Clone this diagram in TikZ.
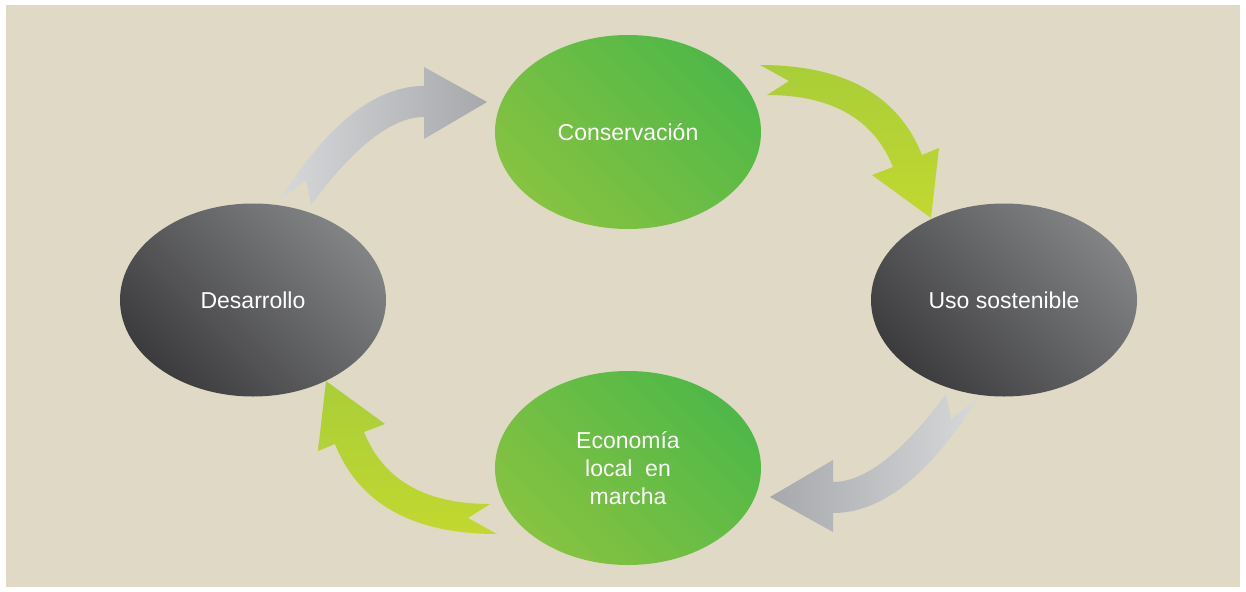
\documentclass[tikz,border=0pt]{standalone}
\usepackage{fontspec}
\setmainfont{Liberation Sans}
\usetikzlibrary{shapes.geometric}
\definecolor{beige}{HTML}{E0D9C5}
\definecolor{greenA}{HTML}{4FB848}
\definecolor{greenB}{HTML}{86C341}
\definecolor{grayA}{HTML}{828385}
\definecolor{grayB}{HTML}{3C3C3E}
\definecolor{arrLight}{HTML}{D7D8DA}
\definecolor{arrDark}{HTML}{A6A8AB}
\definecolor{limeTop}{HTML}{A9CE38}
\definecolor{limeBot}{HTML}{C2D82F}
\tikzset{
  greenell/.style={ellipse, minimum width=266pt, minimum height=194pt, inner sep=0pt,
    shading=axis, top color=greenA, bottom color=greenB, shading angle=-45,
    text=white, font=\fontsize{23}{28}\selectfont, align=center},
  grayell/.style={ellipse, minimum width=266pt, minimum height=193pt, inner sep=0pt,
    shading=axis, top color=grayA, bottom color=grayB, shading angle=-45,
    text=white, font=\fontsize{23}{28}\selectfont, align=center},
  grayarrL/.style={shading=axis, left color=arrLight, right color=arrDark},
  grayarrR/.style={shading=axis, left color=arrDark, right color=arrLight},
  limearr/.style={shading=axis, top color=limeTop, bottom color=limeBot}
}
\begin{document}
\begin{tikzpicture}[x=1pt,y=-1pt]
\useasboundingbox (0,0) rectangle (1246,591);
\fill[white] (0,0) rectangle (1246,591);
\fill[beige] (6,5) rectangle (1240,587);

% arrows
\shade[grayarrL] (280,200) -- (306,180) -- (311,205)
  .. controls (354.3,146.3) and (392,117) .. (424,117) -- (424,139) -- (487,102) -- (424,67) -- (424,86)
  .. controls (375.3,86) and (327.3,124) .. (280,200) -- cycle;
\shade[grayarrR] (977,399) -- (951,419) -- (946,394)
  .. controls (902.7,452.7) and (865,482) .. (833,482) -- (833,460) -- (770,497) -- (833,532) -- (833,513)
  .. controls (881.7,513) and (929.7,475) .. (977,399) -- cycle;
\shade[limearr] (760,65) .. controls (844,65) and (898,95) .. (922,155) -- (939,148) -- (931,218)
  -- (872,175) -- (893,167) .. controls (873.7,119) and (831.7,95) .. (767,95) -- (789,81) -- cycle;
\shade[limearr] (497,534) .. controls (413,534) and (359,504) .. (335,444) -- (318,451) -- (326,381)
  -- (385,424) -- (364,432) .. controls (383.3,480) and (425.3,504) .. (490,504) -- (468,518) -- cycle;

% ellipses
\node[greenell] (cons) at (628,132) {Conservación};
\node[grayell] (des) at (253,300) {Desarrollo};
\node[grayell] (uso) at (1004,300) {Uso sostenible};
\node[greenell] (eco) at (628,468) {Economía\\local\ \ en\\marcha};
\end{tikzpicture}
\end{document}
